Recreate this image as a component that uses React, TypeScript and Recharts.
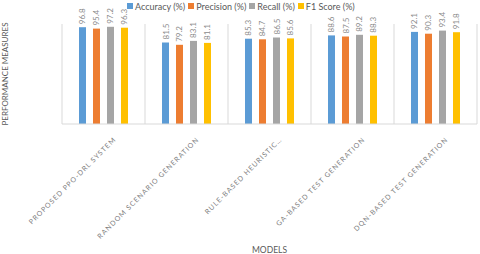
import { BarChart, Bar, XAxis, YAxis, CartesianGrid, LabelList } from "recharts";

const models = [
  "PROPOSED PPO-DRL SYSTEM",
  "RANDOM SCENARIO GENERATION",
  "RULE-BASED HEURISTIC…",
  "GA-BASED TEST GENERATION",
  "DQN-BASED TEST GENERATION",
];
const accuracy = [96.8, 81.5, 85.3, 88.6, 92.1];
const precision = [95.4, 79.2, 84.7, 87.5, 90.3];
const recall = [97.2, 83.1, 86.5, 89.2, 93.4];
const f1Score = [96.3, 81.1, 85.6, 88.3, 91.8];

const seriesNames = ["Accuracy (%)", "Precision (%)", "Recall (%)", "F1 Score (%)"];
const seriesKeys = ["accuracy", "precision", "recall", "f1"];
const colors = ["#5B9BD5", "#ED7D31", "#A5A5A5", "#FFC000"];

const data = models.map((name, i) => ({
  name,
  accuracy: accuracy[i],
  precision: precision[i],
  recall: recall[i],
  f1: f1Score[i],
}));

const FONT = "Lato, 'Liberation Sans', sans-serif";

function ValueLabel(props: any) {
  const { x, y, width, value } = props;
  const lx = x + width / 2 + 3;
  const ly = y - 3;
  return (
    <text
      x={lx}
      y={ly}
      transform={`rotate(-90 ${lx} ${ly})`}
      textAnchor="start"
      fontSize={8}
      fontFamily={FONT}
      fill="#8c8c8c"
    >
      {value}
    </text>
  );
}

function ModelTick(props: any) {
  const { x, y, payload } = props;
  const ax = x + 13;
  const ay = y + 16;
  return (
    <text
      x={ax}
      y={ay}
      transform={`rotate(-45 ${ax} ${ay})`}
      textAnchor="end"
      fontSize={7}
      letterSpacing={1}
      fontFamily={FONT}
      fill="#7f7f7f"
    >
      {payload.value}
    </text>
  );
}

export default function App() {
  return (
    <div style={{ position: "absolute", left: 0, top: 0, width: 480, height: 254, background: "#fff", fontFamily: FONT }}>
      <div style={{ position: "absolute", left: 127, top: 0, display: "flex", alignItems: "center", height: 12, fontSize: 9, color: "#595959", whiteSpace: "nowrap" }}>
        {seriesNames.map((s, i) => (
          <div key={s} style={{ display: "flex", alignItems: "center", marginRight: 3 }}>
            <span style={{ width: 6, height: 6, background: colors[i], display: "inline-block", marginRight: 2 }} />
            <span>{s}</span>
          </div>
        ))}
      </div>
      <BarChart
        width={480}
        height={254}
        data={data}
        margin={{ top: 24, right: 3, left: 0, bottom: 0 }}
        barSize={7}
        barGap={7}
      >
        <CartesianGrid
          horizontal={false}
          stroke="#D9D9D9"
          verticalCoordinatesGenerator={({ offset }: any) =>
            Array.from({ length: models.length + 1 }, (_, i) => offset.left + (i * offset.width) / models.length)
          }
        />
        <XAxis
          dataKey="name"
          height={130}
          interval={0}
          tickLine={false}
          tickSize={0}
          tickMargin={0}
          axisLine={{ stroke: "#D9D9D9" }}
          tick={<ModelTick />}
          label={{ value: "MODELS", position: "insideBottom", offset: 1, fontSize: 8.5, fill: "#595959", fontFamily: FONT }}
        />
        <YAxis
          width={62}
          domain={[0, 100]}
          axisLine={false}
          tickLine={false}
          tick={false}
          label={{ value: "PERFORMANCE MEASURES", angle: -90, position: "center", dx: -26, fontSize: 8, fill: "#595959", fontFamily: FONT }}
        />
        {seriesKeys.map((k, i) => (
          <Bar key={k} dataKey={k} name={seriesNames[i]} fill={colors[i]} isAnimationActive={false}>
            <LabelList dataKey={k} content={<ValueLabel />} />
          </Bar>
        ))}
      </BarChart>
    </div>
  );
}
